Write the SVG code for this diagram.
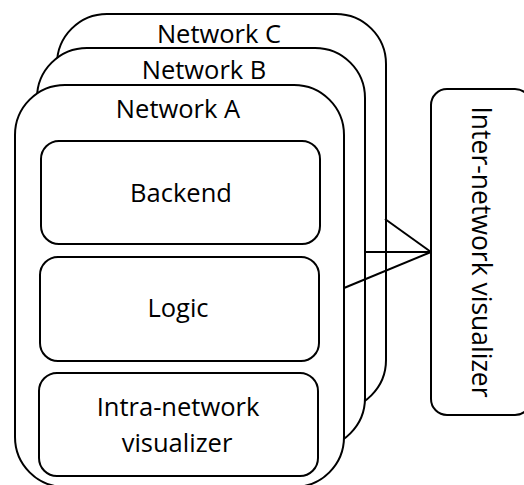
<svg xmlns="http://www.w3.org/2000/svg" width="524" height="485" viewBox="0 0 524 485">
<style>
.box{fill:#fff;stroke:#000;stroke-width:2}
.ln{fill:none;stroke:#000;stroke-width:2}
text{font-family:"Open Sans","Noto Sans","DejaVu Sans",sans-serif;font-size:25.5px;fill:#000;text-anchor:middle}
</style>
<rect width="524" height="485" fill="#fff"/>
<g id="networkC">
<rect class="box" x="57" y="14" width="329" height="396" rx="50"/>
<text x="219" y="43">Network C</text>
</g>
<g id="networkB">
<rect class="box" x="37" y="48" width="328" height="400" rx="50"/>
<text x="204" y="79">Network B</text>
</g>
<g id="connectors">
<line class="ln" x1="385" y1="219" x2="431" y2="252"/>
<line class="ln" x1="365" y1="252" x2="431" y2="252"/>
<line class="ln" x1="344" y1="288" x2="431" y2="252"/>
</g>
<g id="networkA">
<rect class="box" x="15" y="85" width="329" height="402" rx="50"/>
<text x="178" y="118">Network A</text>
</g>
<g id="backend">
<rect class="box" x="41" y="141" width="279" height="103" rx="18"/>
<text x="181" y="202">Backend</text>
</g>
<g id="logic">
<rect class="box" x="40" y="257" width="279" height="104" rx="18"/>
<text x="178" y="317">Logic</text>
</g>
<g id="intra">
<rect class="box" x="39" y="373" width="279" height="103" rx="18"/>
<text x="178" y="416">Intra-network</text>
<text x="177" y="452">visualizer</text>
</g>
<g id="inter">
<rect class="box" x="431" y="89" width="100" height="326" rx="16"/>
<text transform="translate(472 252) rotate(90)" style="font-size:26.5px">Inter-network visualizer</text>
</g>
</svg>
